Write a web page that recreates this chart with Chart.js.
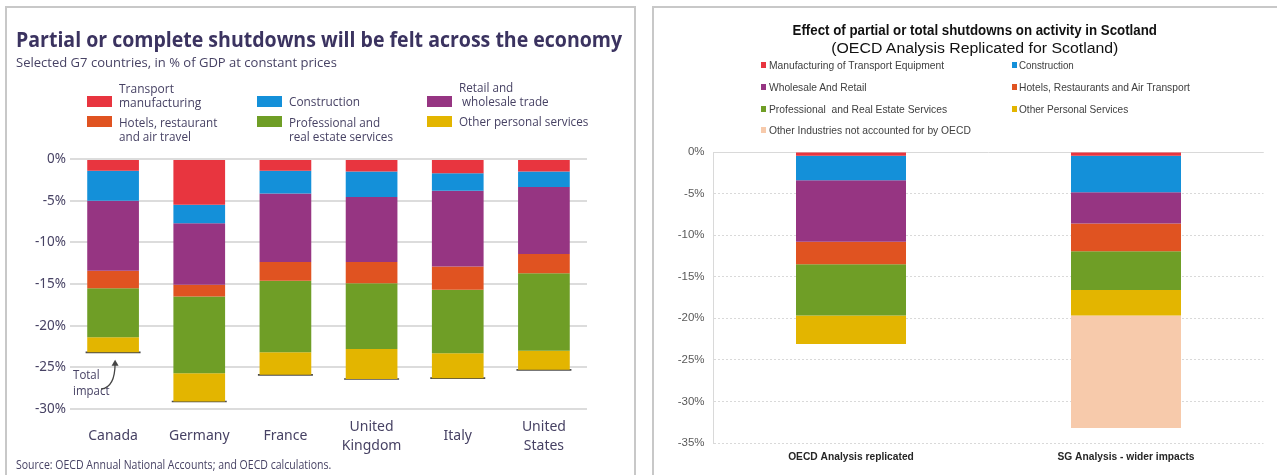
<!DOCTYPE html>
<html><head><meta charset="utf-8">
<script src="https://cdn.jsdelivr.net/npm/chart.js@4.4.0/dist/chart.umd.min.js"></script>
<style>
html,body{margin:0;padding:0;background:#fff;}
body{width:1277px;height:475px;overflow:hidden;position:relative;}
.panel{position:absolute;border:2px solid #c8c8c8;box-sizing:border-box;}
#lp{left:5px;top:6px;width:631px;height:520px;}
#rp{left:652px;top:6px;width:700px;height:520px;}
canvas{position:absolute;top:0;}
#c1{left:0;}
#c2{left:640px;}
.t{position:absolute;white-space:pre;}
.sw{position:absolute;}
</style></head>
<body>
<div class="panel" id="lp"></div>
<div class="panel" id="rp"></div>
<canvas id="c1" width="640" height="475"></canvas>
<canvas id="c2" width="637" height="475"></canvas>
<script>
// ---------- Left chart data (OECD, selected G7, % of GDP) ----------
const countries = [['Canada'], ['Germany'], ['France'], ['United', 'Kingdom'], ['Italy'], ['United', 'States']];
const oecdLegendLabels = ['Transport\nmanufacturing', 'Construction', 'Retail and\n wholesale trade',
  'Hotels, restaurant\nand air travel', 'Professional and\nreal estate services', 'Other personal services'];
const transportMfg    = [-1.4, -5.5, -1.4, -1.5, -1.7, -1.5];
const construction    = [-3.6, -2.2, -2.75, -3.05, -2.1, -1.85];
const retailWholesale = [-8.4, -7.4, -8.2, -7.8, -9.1, -8.05];
const hotelsAirTravel = [-2.1, -1.4, -2.25, -2.55, -2.8, -2.3];
const profRealEstate  = [-5.9, -9.2, -8.6, -7.9, -7.6, -9.3];
const otherPersonal   = [-1.8, -3.4, -2.7, -3.6, -3.0, -2.3];
const totalImpact     = [-23.2, -29.1, -25.9, -26.4, -26.3, -25.3];
const leftTicks = [0, -5, -10, -15, -20, -25, -30];

// ---------- Right chart data (Scotland) ----------
const scotCategories = ['OECD Analysis replicated', 'SG Analysis - wider impacts'];
const scotLegendLabels = ['Manufacturing of Transport Equipment', 'Construction', 'Wholesale And Retail',
  'Hotels, Restaurants and Air Transport', 'Professional  and Real Estate Services', 'Other Personal Services',
  'Other Industries not accounted for by OECD'];
const scotTransport    = [-0.45, -0.45];
const scotConstruction = [-2.95, -4.4];
const scotWholesale    = [-7.4, -3.75];
const scotHotels       = [-2.7, -3.35];
const scotProfessional = [-6.15, -4.65];
const scotOtherPersonal= [-3.45, -3.05];
const scotOtherInd     = [0, -13.55];
const rightTicks = [0, -5, -10, -15, -20, -25, -30, -35];

const leftColors = ['#e8353f', '#1490d9', '#963582', '#e05321', '#6f9e26', '#e3b500'];
const rightColors = ['#e8353f', '#1490d9', '#963582', '#e05321', '#6f9e26', '#e3b500', '#f7caab'];

// ---------- text helper (fits text to measured width) ----------
function addText(txt, o) {
  const d = document.createElement('div');
  d.className = 't';
  d.textContent = txt;
  const lh = o.lh || Math.round(o.size * 1.2);
  d.style.font = `${o.weight || 400} ${o.size}px ${o.family}`;
  d.style.lineHeight = lh + 'px';
  d.style.color = o.color;
  document.body.appendChild(d);
  const w = d.offsetWidth;
  const s = o.w ? o.w / w : 1;
  d.style.top = (o.y - lh / 2) + 'px';
  if (o.align === 'center') {
    d.style.left = (o.x - w / 2) + 'px';
    d.style.transformOrigin = '50% 50%';
  } else {
    d.style.left = o.x + 'px';
    d.style.transformOrigin = '0 50%';
  }
  d.style.transform = `scaleX(${s})`;
  return d;
}
function addSwatch(x, y, w, h, c) {
  const d = document.createElement('div');
  d.className = 'sw';
  Object.assign(d.style, {left: x + 'px', top: y + 'px', width: w + 'px', height: h + 'px', background: c});
  document.body.appendChild(d);
}

const OS = '"Open Sans", "Noto Sans", sans-serif';
const LS = '"Liberation Sans", Arial, sans-serif';
const leftTxt = '#474264';

// Left title block
addText('Partial or complete shutdowns will be felt across the economy', {x: 16, y: 39, w: 606, size: 21, weight: 700, family: OS, color: '#3b3360'});
addText('Selected G7 countries, in % of GDP at constant prices', {x: 16, y: 62, w: 321, size: 12.5, family: OS, color: leftTxt});
addText('Source: OECD Annual National Accounts; and OECD calculations.', {x: 15.5, y: 465, w: 315, size: 12, family: OS, color: leftTxt});

// Left legend
const lLegSwX = [87, 257, 427], lLegTxX = [119, 289, 459], lLegSwY = [96, 116];
const lLegTxY = [88, 100.5, 87, 121.5, 121.5, 121];
const lLegW = [82, 71, 90, 98, 103.6, 129];
oecdLegendLabels.forEach((lab, i) => {
  const col = i % 3, row = Math.floor(i / 3);
  addSwatch(lLegSwX[col], lLegSwY[row], 25, 11, leftColors[i]);
  addText(lab, {x: lLegTxX[col], y: lLegTxY[i], w: lLegW[i], size: 13, lh: 14, family: OS, color: leftTxt});
});

// Right title block
addText('Effect of partial or total shutdowns on activity in Scotland', {x: 974, y: 30.5, w: 364, size: 14, weight: 700, family: LS, color: '#111', align: 'center'});
addText('(OECD Analysis Replicated for Scotland)', {x: 975, y: 48.5, w: 287.5, size: 14, family: LS, color: '#111', align: 'center'});

// Right legend
const rLegSwX = [761, 1012], rLegTxX = [769, 1019], rLegY = [65, 87, 109, 130];
const rLegW = [175, 55, 98, 170.5, 178, 109, 202];
scotLegendLabels.forEach((lab, i) => {
  const col = i % 2, row = Math.floor(i / 2);
  addSwatch(rLegSwX[col], rLegY[row] - 3, 5, 6, rightColors[i]);
  addText(lab, {x: rLegTxX[col], y: rLegY[row], w: rLegW[i], size: 11, family: LS, color: '#404040'});
});

// ---------- Left chart ----------
const leftSeries = [transportMfg, construction, retailWholesale, hotelsAirTravel, profRealEstate, otherPersonal];
const totalNotePlugin = {
  id: 'totalNote',
  afterDatasetsDraw(chart) {
    const {ctx, scales: {x, y}} = chart;
    const x0 = x.getPixelForValue(0);
    ctx.save();
    ctx.fillStyle = leftTxt;
    ctx.font = '13px "Open Sans", sans-serif';
    ctx.textBaseline = 'middle';
    ctx.setTransform(0.88, 0, 0, 1, 0, 0);
    ctx.fillText('Total', (x0 - 40) / 0.88, y.getPixelForValue(-25.95));
    ctx.fillText('impact', (x0 - 40) / 0.88, y.getPixelForValue(-27.85));
    ctx.setTransform(1, 0, 0, 1, 0, 0);
    ctx.strokeStyle = '#444';
    ctx.lineWidth = 1.3;
    ctx.beginPath();
    ctx.moveTo(x0 - 12, y.getPixelForValue(-27.6));
    ctx.quadraticCurveTo(x0 + 2, y.getPixelForValue(-27.4), x0 + 2, y.getPixelForValue(-24.5));
    ctx.stroke();
    const ty = y.getPixelForValue(-24.2);
    ctx.fillStyle = '#444';
    ctx.beginPath();
    ctx.moveTo(x0 + 2, ty - 1);
    ctx.lineTo(x0 - 1.5, ty + 5);
    ctx.lineTo(x0 + 5.5, ty + 5);
    ctx.closePath();
    ctx.fill();
    ctx.restore();
  }
};

new Chart(document.getElementById('c1'), {
  type: 'bar',
  data: {
    labels: countries,
    datasets: [
      ...leftSeries.map((d, i) => ({
        label: oecdLegendLabels[i].replace('\n', ' '), data: d, backgroundColor: leftColors[i],
        stack: 's', barPercentage: 0.6, categoryPercentage: 1, borderWidth: 0
      })),
      {type: 'line', label: 'Total impact', data: totalImpact, stack: 't', showLine: false,
       pointStyle: 'line', pointRadius: 27.5, pointHoverRadius: 27.5, pointBorderWidth: 1.6,
       pointBorderColor: '#4a4a4a', pointBackgroundColor: '#4a4a4a'}
    ]
  },
  options: {
    responsive: false, animation: false,
    layout: {padding: {left: 0, right: 53, top: 159, bottom: 0}},
    plugins: {legend: {display: false}, tooltip: {enabled: false}},
    scales: {
      x: {
        stacked: true,
        grid: {display: false, drawTicks: false},
        border: {display: false},
        ticks: {color: leftTxt, font: {family: 'Noto Sans', size: 14, lineHeight: 1.35}, padding: 18, crossAlign: 'center', maxRotation: 0, autoSkip: false},
        afterFit: s => { s.height = 66; }
      },
      y: {
        stacked: true, min: -30, max: 0,
        afterBuildTicks: s => { s.ticks = leftTicks.map(v => ({value: v})); },
        grid: {color: '#dcdcdc', lineWidth: 2, drawTicks: false},
        border: {display: false},
        ticks: {color: leftTxt, font: {family: 'Noto Sans', size: 13.5}, padding: 4, callback: v => v + '%'},
        afterFit: s => { s.width = 70; }
      }
    }
  },
  plugins: [totalNotePlugin]
});

// ---------- Right chart ----------
const rightSeries = [scotTransport, scotConstruction, scotWholesale, scotHotels, scotProfessional, scotOtherPersonal, scotOtherInd];
const zeroLinePlugin = {
  id: 'zeroLine',
  beforeDatasetsDraw(chart) {
    const {ctx, chartArea, scales: {y}} = chart;
    const py = Math.round(y.getPixelForValue(0)) + 0.5;
    ctx.save();
    ctx.strokeStyle = '#d9d9d9';
    ctx.lineWidth = 1;
    ctx.beginPath();
    ctx.moveTo(chartArea.left, py);
    ctx.lineTo(chartArea.right, py);
    ctx.stroke();
    ctx.restore();
  },
  afterDraw(chart) {
    // category labels, drawn in a slightly condensed face like the reference
    const {ctx, chartArea, scales: {x}} = chart;
    const sx = 0.89;
    ctx.save();
    ctx.fillStyle = '#262626';
    ctx.font = 'bold 11.5px "Liberation Sans", Arial, sans-serif';
    ctx.textAlign = 'center';
    ctx.textBaseline = 'middle';
    ctx.setTransform(sx, 0, 0, 1, 0, 0);
    chart.data.labels.forEach((lab, i) => {
      ctx.fillText(lab, x.getPixelForValue(i) / sx, chartArea.bottom + 14);
    });
    ctx.restore();
  }
};
new Chart(document.getElementById('c2'), {
  type: 'bar',
  data: {
    labels: scotCategories,
    datasets: rightSeries.map((d, i) => ({
      label: scotLegendLabels[i], data: d, backgroundColor: rightColors[i],
      stack: 's', barPercentage: 0.4, categoryPercentage: 1, borderWidth: 0
    }))
  },
  options: {
    responsive: false, animation: false,
    layout: {padding: {left: 0, right: 13.5, top: 152, bottom: 0}},
    plugins: {legend: {display: false}, tooltip: {enabled: false}},
    scales: {
      x: {
        stacked: true,
        grid: {display: false, drawTicks: false},
        border: {display: false},
        ticks: {display: false},
        afterFit: s => { s.height = 32; }
      },
      y: {
        stacked: true, min: -35, max: 0,
        afterBuildTicks: s => { s.ticks = rightTicks.map(v => ({value: v})); },
        grid: {color: '#d9d9d9', lineWidth: 1, drawTicks: false},
        border: {display: true, color: '#d9d9d9', width: 1, dash: [2, 2]},
        ticks: {color: '#595959', font: {family: LS, size: 11.5}, padding: 9, callback: v => v + '%'},
        afterFit: s => { s.width = 73.5; }
      }
    }
  },
  plugins: [zeroLinePlugin]
});
</script>
</body></html>
